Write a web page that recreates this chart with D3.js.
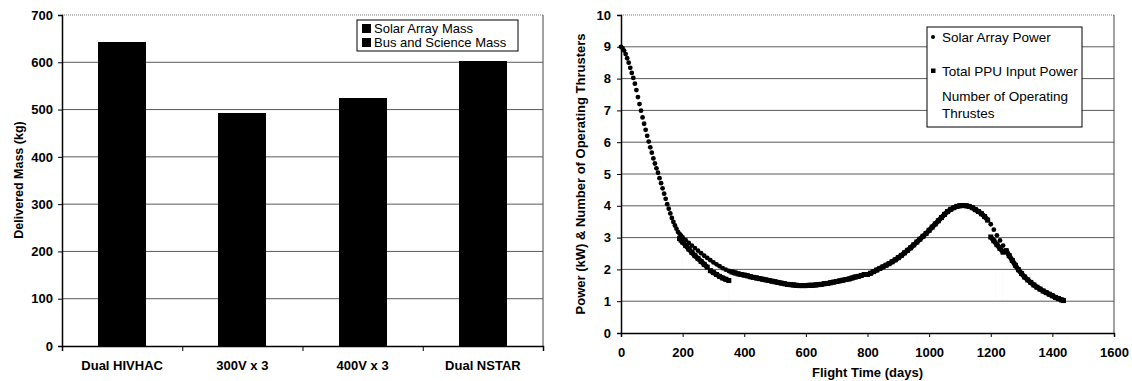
<!DOCTYPE html>
<html><head><meta charset="utf-8">
<script src="https://cdn.jsdelivr.net/npm/d3@7"></script>
<style>
html,body{margin:0;padding:0;background:#fff;}
svg{display:block;font-family:"Liberation Sans",Arial,sans-serif;}
</style></head>
<body>
<svg id="chart" width="1132" height="381"></svg>
<script>
// ---------- Left chart data ----------
const barCategories = ["Dual HIVHAC", "300V x 3", "400V x 3", "Dual NSTAR"];
const solarArrayMass = [150, 160, 155, 170];
const busScienceMass = [492, 332, 370, 432];
const massTicks = [0, 100, 200, 300, 400, 500, 600, 700];
const barSeriesNames = ["Solar Array Mass", "Bus and Science Mass"];

// ---------- Right chart data ----------
const flightDays = [0,5,10,15,20,25,30,35,40,45,50,55,60,65,70,75,80,85,90,95,100,105,110,115,120,125,130,135,140,145,150,155,160,165,170,175,180,185,190,195,200,
210,220,230,240,250,260,270,280,290,300,310,320,330,340,350,360,370,380,390,400,410,420,430,440,450,460,470,480,490,500,510,520,530,540,550,560,570,580,590,600,
610,620,630,640,650,660,670,680,690,700,710,720,730,740,750,760,770,780,790,800,810,820,830,840,850,860,870,880,890,900,910,920,930,940,950,960,970,980,990,1000,
1010,1020,1030,1040,1050,1060,1070,1080,1090,1100,1110,1120,1130,1140,1150,1160,1170,1180,1190,1200,1210,1220,1230,1240,1250,1260,1270,1280,1290,1300,
1310,1320,1330,1340,1350,1360,1370,1380,1390,1400,1410,1420,1430,1436];
const solarArrayPower = [9.00,8.96,8.88,8.77,8.64,8.50,8.34,8.18,8.02,7.84,7.64,7.42,7.20,6.99,6.78,6.58,6.39,6.20,6.02,5.84,5.67,5.49,5.33,5.18,5.04,4.87,4.71,4.55,4.38,4.22,4.05,3.91,3.76,3.62,3.49,3.38,3.28,3.18,3.12,3.06,3.01,
2.92,2.83,2.75,2.67,2.59,2.51,2.43,2.36,2.29,2.22,2.16,2.10,2.04,1.99,1.95,1.92,1.89,1.86,1.84,1.82,1.80,1.77,1.75,1.73,1.71,1.69,1.67,1.65,1.63,1.61,1.59,1.57,1.55,1.53,1.52,1.51,1.50,1.49,1.49,1.49,
1.50,1.50,1.51,1.52,1.53,1.55,1.56,1.58,1.60,1.62,1.64,1.66,1.68,1.70,1.73,1.76,1.78,1.81,1.84,1.84,1.88,1.93,1.98,2.03,2.08,2.13,2.18,2.24,2.30,2.37,2.44,2.52,2.60,2.68,2.77,2.86,2.95,3.04,3.13,3.23,
3.33,3.43,3.53,3.63,3.73,3.82,3.89,3.94,3.98,4.00,4.01,4.00,3.98,3.94,3.88,3.82,3.75,3.66,3.55,3.42,3.25,3.07,2.91,2.75,2.59,2.43,2.28,2.13,1.99,1.87,
1.76,1.67,1.59,1.51,1.44,1.38,1.32,1.27,1.22,1.17,1.12,1.08,1.04,1.02];

const ppuDays = [190,195,200,210,220,230,240,250,260,270,280,285,290,300,310,320,330,340,350,355,
360,370,380,390,400,410,420,430,440,450,460,470,480,490,500,510,520,530,540,550,560,570,580,590,600,
610,620,630,640,650,660,670,680,690,700,710,720,730,740,750,760,770,780,790,800,810,820,830,840,850,860,870,880,890,900,910,920,930,940,950,960,970,980,990,1000,
1010,1020,1030,1040,1050,1060,1070,1080,1090,1100,1110,1120,1130,1140,1150,1160,1170,1180,1190,1195,1200,1210,1220,1230,1240,1245,1250,1260,1270,1280,1290,1300,
1310,1320,1330,1340,1350,1360,1370,1380,1390,1400,1410,1420,1430,1436];
const ppuInputPower = [2.97,2.92,2.86,2.75,2.64,2.53,2.43,2.34,2.25,2.16,2.07,null,1.96,1.90,1.84,1.78,1.73,1.69,1.65,null,
1.92,1.89,1.86,1.84,1.82,1.80,1.77,1.75,1.73,1.71,1.69,1.67,1.65,1.63,1.61,1.59,1.57,1.55,1.53,1.52,1.51,1.50,1.49,1.49,1.49,
1.50,1.50,1.51,1.52,1.53,1.55,1.56,1.58,1.60,1.62,1.64,1.66,1.68,1.70,1.73,1.76,1.78,1.81,1.84,1.84,1.88,1.93,1.98,2.03,2.08,2.13,2.18,2.24,2.30,2.37,2.44,2.52,2.60,2.68,2.77,2.86,2.95,3.04,3.13,3.23,
3.33,3.43,3.53,3.63,3.73,3.82,3.89,3.94,3.98,4.00,4.01,4.00,3.98,3.94,3.88,3.82,3.75,3.66,3.55,null,3.02,2.90,2.78,2.66,2.54,null,2.59,2.43,2.28,2.13,1.99,1.87,
1.76,1.67,1.59,1.51,1.44,1.38,1.32,1.27,1.22,1.17,1.12,1.08,1.04,1.02];

const thrusterDays = [0, 200, 200, 350, 350, 1215, 1215, 1240, 1240, 1436];
const thrusterCount = [3, 3, 2, 2, 1, 1, 2, 2, 1, 1];

const powerTicks = [0,1,2,3,4,5,6,7,8,9,10];
const dayTicks = [0,200,400,600,800,1000,1200,1400,1600];
const lineSeriesNames = ["Solar Array Power", "Total PPU Input Power", "Number of Operating Thrustes"];

const svg = d3.select("#chart");
const FONT = '"Liberation Sans", Arial, sans-serif';

// ================= LEFT CHART =================
(function(){
  const L = 62, R = 543, T = 15, B = 346;
  const x = d3.scaleBand().domain(barCategories).range([L, R]).paddingInner(0.6).paddingOuter(0.3);
  const y = d3.scaleLinear().domain([0, 700]).range([B, T]);
  const g = svg.append("g");

  g.selectAll(".grid").data(massTicks.filter(v => v > 0 && v < 700)).join("line")
    .attr("x1", L).attr("x2", R).attr("y1", d => y(d)).attr("y2", d => y(d))
    .attr("stroke", "#5a5a5a").attr("stroke-width", 1);
  g.append("line").attr("x1", L).attr("x2", R).attr("y1", y(700)).attr("y2", y(700))
    .attr("stroke", "#777").attr("stroke-dasharray", "1,1");
  g.append("line").attr("x1", R).attr("x2", R).attr("y1", y(700)).attr("y2", y(0))
    .attr("stroke", "#444");

  const table = barCategories.map((c, i) => ({cat: c, solar: solarArrayMass[i], bus: busScienceMass[i]}));
  const stack = d3.stack().keys(["solar", "bus"])(table);
  const colors = ["#000", "#000"];
  stack.forEach((layer, li) => {
    g.append("g").selectAll("rect").data(layer).join("rect")
      .attr("x", d => x(d.data.cat)).attr("width", x.bandwidth())
      .attr("y", d => y(d[1])).attr("height", d => y(d[0]) - y(d[1]) + (li === 1 ? 1 : 0))
      .attr("fill", colors[li]).attr("shape-rendering", "crispEdges");
  });

  const ya = g.append("g").attr("transform", `translate(${L},0)`)
    .call(d3.axisLeft(y).tickValues(massTicks).tickSize(4).tickPadding(5));
  ya.selectAll("text").attr("font-family", FONT).attr("font-size", 13).attr("font-weight", "bold").attr("fill", "#000");
  ya.select(".domain").attr("stroke", "#000").attr("stroke-width", 1.5);
  ya.selectAll(".tick line").attr("stroke", "#000");

  const xb = d3.scaleLinear().domain([0, barCategories.length]).range([L, R]);
  const xa = g.append("g").attr("transform", `translate(0,${B})`)
    .call(d3.axisBottom(xb).ticks(barCategories.length).tickFormat("").tickSize(5));
  xa.select(".domain").attr("stroke", "#000").attr("stroke-width", 1.5);
  xa.selectAll(".tick line").attr("stroke", "#000");
  const xl = g.append("g").attr("transform", `translate(0,${B})`)
    .call(d3.axisBottom(x).tickSize(0).tickPadding(14.5));
  xl.select(".domain").remove();
  xl.selectAll("text").attr("font-family", FONT).attr("font-size", 13).attr("font-weight", "bold").attr("fill", "#000");

  g.append("text").attr("transform", "translate(23,180) rotate(-90)")
    .attr("text-anchor", "middle").attr("font-size", 12.5).attr("font-weight", "bold")
    .text("Delivered Mass (kg)");

  const lg = g.append("g").attr("transform", "translate(357,20)");
  lg.append("rect").attr("width", 161).attr("height", 31).attr("fill", "#fff").attr("stroke", "#000");
  barSeriesNames.forEach((n, i) => {
    lg.append("rect").attr("x", 5).attr("y", 4 + i * 14).attr("width", 9).attr("height", 9).attr("fill", "#000");
    lg.append("text").attr("x", 17).attr("y", 13 + i * 14).attr("font-size", 13).text(n);
  });
})();

// ================= RIGHT CHART =================
(function(){
  const L = 621, R = 1114, T = 15, B = 333;
  const x = d3.scaleLinear().domain([0, 1600]).range([L, R]);
  const y = d3.scaleLinear().domain([0, 10]).range([B, T]);
  const g = svg.append("g");

  g.append("path")
    .attr("d", d3.line().x((d, i) => x(thrusterDays[i])).y(d => y(d))(thrusterCount))
    .attr("fill", "none").attr("stroke", "#fbfbfb").attr("stroke-width", 1);

  g.selectAll(".grid").data(powerTicks.filter(v => v > 0 && v < 10)).join("line")
    .attr("x1", L).attr("x2", R).attr("y1", d => y(d)).attr("y2", d => y(d))
    .attr("stroke", "#5a5a5a").attr("stroke-width", 1);
  g.append("line").attr("x1", L).attr("x2", R).attr("y1", y(10)).attr("y2", y(10))
    .attr("stroke", "#777").attr("stroke-dasharray", "1,1");
  g.append("line").attr("x1", R).attr("x2", R).attr("y1", y(10)).attr("y2", y(0))
    .attr("stroke", "#444");

  const ppuLine = d3.line().defined(d => d != null).x((d, i) => x(ppuDays[i])).y(d => y(d)).curve(d3.curveMonotoneX);
  g.append("path").attr("d", ppuLine(ppuInputPower))
    .attr("fill", "none").attr("stroke", "#000").attr("stroke-width", 5).attr("stroke-linejoin", "round");
  g.append("g").selectAll("rect").data(ppuInputPower.map((v, i) => ({d: ppuDays[i], v})).filter(p => p.v != null))
    .join("rect").attr("x", p => x(p.d) - 2.5).attr("y", p => y(p.v) - 2.5).attr("width", 5).attr("height", 5).attr("fill", "#000");

  g.append("g").selectAll("circle").data(solarArrayPower).join("circle")
    .attr("cx", (d, i) => x(flightDays[i])).attr("cy", d => y(d)).attr("r", 2.4).attr("fill", "#000");

  const ya = g.append("g").attr("transform", `translate(${L},0)`)
    .call(d3.axisLeft(y).tickValues(powerTicks).tickSize(4).tickPadding(6));
  ya.selectAll("text").attr("font-family", FONT).attr("font-size", 13).attr("font-weight", "bold").attr("fill", "#000");
  ya.select(".domain").attr("stroke", "#000").attr("stroke-width", 1.5);
  ya.selectAll(".tick line").attr("stroke", "#000");

  const xa = g.append("g").attr("transform", `translate(0,${B})`)
    .call(d3.axisBottom(x).tickValues(dayTicks).tickFormat(d3.format("d")).tickSize(4).tickPadding(11));
  xa.selectAll("text").attr("font-family", FONT).attr("font-size", 13).attr("font-weight", "bold").attr("fill", "#000");
  xa.select(".domain").attr("stroke", "#000").attr("stroke-width", 1.5);
  xa.selectAll(".tick line").attr("stroke", "#000");

  g.append("text").attr("x", (L + R) / 2).attr("y", 377).attr("text-anchor", "middle")
    .attr("font-size", 13).attr("font-weight", "bold").text("Flight Time (days)");
  g.append("text").attr("transform", `translate(585,${(T + B) / 2}) rotate(-90)`)
    .attr("text-anchor", "middle").attr("font-size", 13).attr("font-weight", "bold")
    .text("Power (kW) & Number of Operating Thrusters");

  const lg = g.append("g").attr("transform", "translate(927,27)");
  lg.append("rect").attr("width", 155).attr("height", 100).attr("fill", "#fff").attr("stroke", "#000");
  lg.append("circle").attr("cx", 6).attr("cy", 10).attr("r", 2).attr("fill", "#000");
  lg.append("text").attr("x", 15).attr("y", 14.5).attr("font-size", 13.5).text(lineSeriesNames[0]);
  lg.append("rect").attr("x", 4).attr("y", 41.5).attr("width", 4.5).attr("height", 4.5).attr("fill", "#000");
  lg.append("text").attr("x", 15).attr("y", 48.5).attr("font-size", 13.5).text(lineSeriesNames[1]);
  const t3 = lg.append("text").attr("x", 15).attr("y", 74).attr("font-size", 13.5);
  t3.append("tspan").attr("x", 15).text("Number of Operating");
  t3.append("tspan").attr("x", 15).attr("dy", 17).text("Thrustes");
})();
</script>
</body></html>
